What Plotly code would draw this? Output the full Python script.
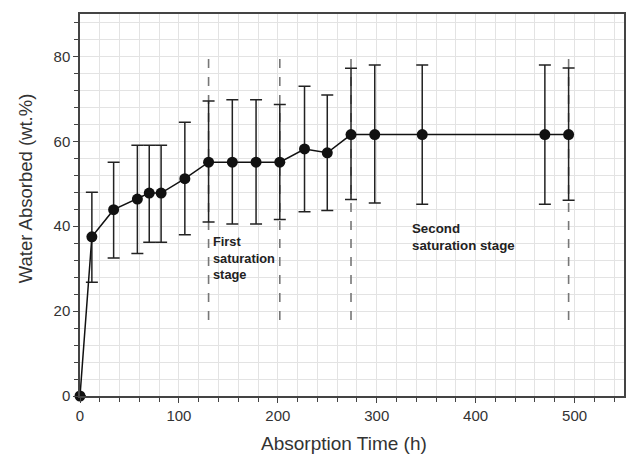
import plotly.graph_objects as go

time_h = [0, 12, 34, 58, 70, 82, 106, 130, 154, 178, 202, 227, 250, 274, 298, 346, 470, 494]
water = [0, 37.5, 43.9, 46.4, 47.8, 47.8, 51.2, 55.1, 55.1, 55.1, 55.1, 58.2, 57.3, 61.6, 61.6, 61.6, 61.6, 61.6]
upper = [0, 48.0, 55.1, 59.1, 59.1, 59.1, 64.5, 69.5, 69.8, 69.8, 68.7, 73.0, 70.9, 77.2, 78.0, 78.0, 78.0, 77.3]
lower = [0, 26.8, 32.5, 33.6, 36.2, 36.2, 38.0, 41.0, 40.5, 40.5, 41.6, 43.4, 43.7, 46.3, 45.5, 45.2, 45.2, 46.1]
stage_bounds = [130, 202, 274, 494]
stage_y = [17.9, 81]

err_plus = [u - w for u, w in zip(upper, water)]
err_minus = [w - l for w, l in zip(water, lower)]

FONT = "Liberation Sans, Arial"
fig = go.Figure()
for xb in stage_bounds:
    fig.add_trace(go.Scatter(x=[xb, xb], y=stage_y, mode="lines",
                             line=dict(color="#777777", width=1.6, dash="dash"),
                             showlegend=False, hoverinfo="skip"))
fig.add_trace(go.Scatter(
    x=time_h, y=water, mode="lines+markers",
    line=dict(color="#111111", width=1.5),
    marker=dict(color="#111111", size=11),
    error_y=dict(type="data", symmetric=False, array=err_plus, arrayminus=err_minus,
                 color="#222222", thickness=1.5, width=6),
    cliponaxis=False, showlegend=False))

fig.add_annotation(x=132.5, y=38.6, xref="x", yref="y", text="<b>First<br>saturation<br>stage</b>",
                   showarrow=False, xanchor="left", yanchor="top", align="left",
                   font=dict(family=FONT, size=12.8, color="#222"))
fig.add_annotation(x=334, y=41.8, xref="x", yref="y", text="<b>Second<br>saturation stage</b>",
                   showarrow=False, xanchor="left", yanchor="top", align="left",
                   font=dict(family=FONT, size=13.3, color="#222"))
# axis titles (positions in pixels, converted to paper below)
fig.add_annotation(x=345, y=444, xref="paper", yref="paper", text="Absorption Time (h)",
                   showarrow=False, xanchor="center", yanchor="middle",
                   font=dict(family=FONT, size=19, color="#333"))
fig.add_annotation(x=25, y=188, xref="paper", yref="paper", text="Water Absorbed (wt.%)",
                   showarrow=False, xanchor="center", yanchor="middle", textangle=-90,
                   font=dict(family=FONT, size=18.5, color="#333"))

axis_common = dict(showline=True, linecolor="#444444", linewidth=1.5, mirror=True,
                   ticks="outside", ticklen=5, tickcolor="#444444", tickwidth=1.2,
                   gridcolor="#e3e3e3", gridwidth=1, zeroline=False,
                   tickfont=dict(family=FONT, size=15, color="#333"))
fig.update_xaxes(range=[0, 550], dtick=100, tick0=0,
                 minor=dict(dtick=20, showgrid=True, gridcolor="#e3e3e3", ticks="outside", ticklen=4, tickcolor="#444"),
                 **axis_common)
fig.update_yaxes(range=[0, 90], dtick=20, tick0=0,
                 minor=dict(dtick=4, showgrid=True, gridcolor="#e3e3e3", ticks="outside", ticklen=4, tickcolor="#444"),
                 **axis_common)
fig.update_layout(width=627, height=455, margin=dict(l=80, r=1, t=14, b=59),
                  paper_bgcolor="white", plot_bgcolor="white")
W, H = 627, 455
L, R, T, B = 80, 1, 14, 59
pw, ph = W - L - R, H - T - B
for ann in fig.layout.annotations:
    if ann.xref == "paper":
        ann.x = (ann.x - L) / pw
        ann.y = (H - B - ann.y) / ph
fig.write_html("out.html")
